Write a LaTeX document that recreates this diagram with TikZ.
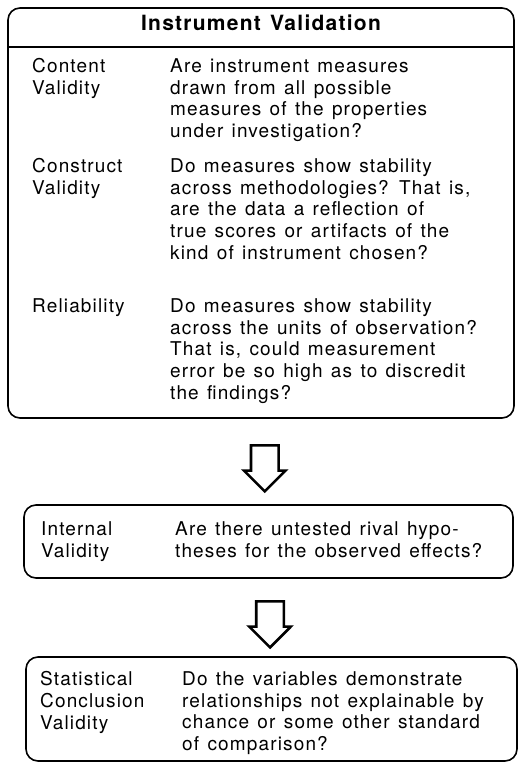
\documentclass[tikz,border=0pt]{standalone}
\usepackage{fontspec}
\setmainfont{TeX Gyre Heros}[LetterSpace=6, WordSpace=1.3]
\usetikzlibrary{positioning, shapes.arrows, calc}

\tikzset{
  panel/.style={draw, line width=1.6pt, rounded corners=12pt, inner sep=0pt},
  lbl/.style={anchor=north west, align=left, inner sep=0pt, font=\fontsize{19}{21.7}\selectfont},
  flow/.style={single arrow, draw, line width=2.6pt, rotate=-90, inner xsep=0pt, inner ysep=12.5pt,
    minimum height=46pt, single arrow head extend=7pt}
}

\begin{document}
\begin{tikzpicture}[x=1pt, y=-1pt]
  \useasboundingbox (0,0) rectangle (519,763);
  \begin{scope}
    \node[panel, minimum width=506pt, minimum height=410pt] (instr) at (261,213) {};
    \node[font=\bfseries\fontsize{21}{24}\selectfont] (head) at (261,23) {Instrument Validation};
    \draw[line width=1.2pt] (instr.west |- 0,47) -- (instr.east |- 0,47);
    \node[lbl] (content)  at (32,58.5) {Content\\Validity};
    \node[lbl] (contentq) at (170,58.5) {Are instrument measures\\drawn from all possible\\measures of the properties\\under investigation?};
    \node[lbl] (construct)  at (32,158.5) {Construct\\Validity};
    \node[lbl] (constructq) at (170,158.5) {Do measures show stability\\across methodologies? That is,\\are the data a reflection of\\true scores or artifacts of the\\kind of instrument chosen?};
    \node[lbl] (reliab)  at (32,298.5) {Reliability};
    \node[lbl] (reliabq) at (170,298.5) {Do measures show stability\\across the units of observation?\\That is, could measurement\\error be so high as to discredit\\the findings?};
  \end{scope}
  \begin{scope}
    \node[panel, minimum width=489pt, minimum height=73pt] (intv) at (268.5,541.5) {};
    \node[lbl] (internal)  at (41,521.5) {Internal\\Validity};
    \node[lbl] (internalq) at (175,521.5) {Are there untested rival hypo-\\theses for the observed effects?};
  \end{scope}
  \begin{scope}
    \node[panel, minimum width=491pt, minimum height=104pt] (stat) at (271.5,709) {};
    \node[lbl] (statcon)  at (40,671.5) {Statistical\\Conclusion\\Validity};
    \node[lbl] (statconq) at (182,671.5) {Do the variables demonstrate\\relationships not explainable by\\chance or some other standard\\of comparison?};
  \end{scope}
  \node[flow] (arr1) at ($(instr.south)!0.5!(intv.north)$) {};
  \node[flow] (arr2) at ($(intv.south)!0.5!(stat.north)$) {};
\end{tikzpicture}
\end{document}
